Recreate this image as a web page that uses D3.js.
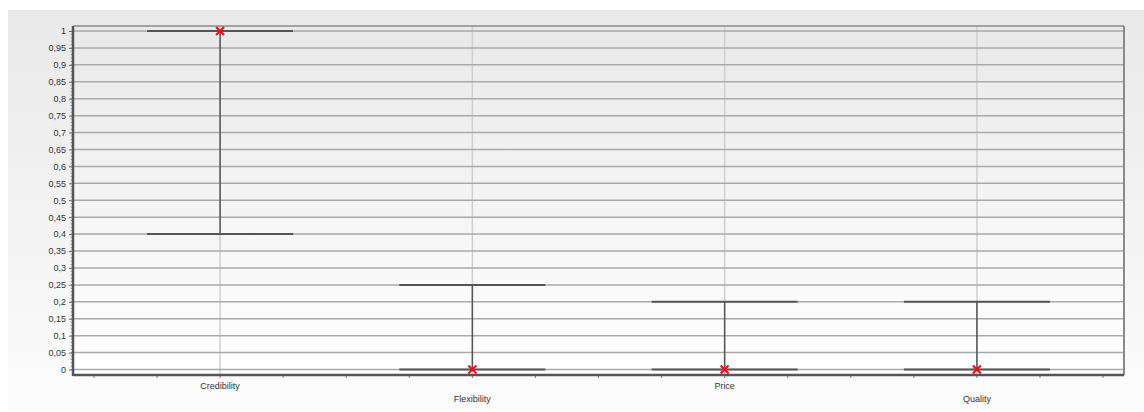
<!DOCTYPE html>
<html><head><meta charset="utf-8">
<script src="https://cdn.jsdelivr.net/npm/d3@7"></script>
<style>body{margin:0;background:#fff}svg{display:block}text{font-family:"Liberation Sans",Arial,sans-serif}</style>
</head><body><svg id="c" width="1144" height="412"></svg>
<script>
const categories = ["Credibility","Flexibility","Price","Quality"];
const lowValues = [0.4, 0, 0, 0];
const highValues = [1, 0.25, 0.2, 0.2];
const pointValues = [1, 0, 0, 0];
const yTicks = d3.range(0, 1.0001, 0.05).map(v => +v.toFixed(2));

const svg = d3.select("#c");
const defs = svg.append("defs");
const g1 = defs.append("linearGradient").attr("id","bg").attr("x1",0).attr("y1",0).attr("x2",0).attr("y2",1);
g1.append("stop").attr("offset","0%").attr("stop-color","#e9e9e9");
g1.append("stop").attr("offset","100%").attr("stop-color","#fcfcfc");
const g2 = defs.append("linearGradient").attr("id","pbg").attr("x1",0).attr("y1",0).attr("x2",0).attr("y2",1);
g2.append("stop").attr("offset","0%").attr("stop-color","#e9e9e9");
g2.append("stop").attr("offset","100%").attr("stop-color","#ffffff");

svg.append("rect").attr("x",8).attr("y",10).attr("width",1136).attr("height",400).attr("fill","url(#bg)");

const L = 73, R = 1124, T = 26, B = 375;
const x = d3.scalePoint().domain(categories).range([L, R]).padding(0.583);
const y = d3.scaleLinear().domain([0, 1]).range([369.5, 31]);

svg.append("rect").attr("x",L).attr("y",T).attr("width",R-L).attr("height",B-T).attr("fill","url(#pbg)");

// vertical grid
svg.append("g").selectAll("line").data(categories).join("line")
  .attr("x1", d => x(d)).attr("x2", d => x(d)).attr("y1", T).attr("y2", B)
  .attr("stroke","#cfcfcf").attr("stroke-width",1.5);
// horizontal grid
svg.append("g").selectAll("line").data(yTicks).join("line")
  .attr("x1", L).attr("x2", R).attr("y1", d => y(d)).attr("y2", d => y(d))
  .attr("stroke","#a9a9a9").attr("stroke-width",1.5);

// borders
svg.append("line").attr("x1",L).attr("x2",R).attr("y1",T).attr("y2",T).attr("stroke","#8a8a8a").attr("stroke-width",1.5);
svg.append("line").attr("x1",R).attr("x2",R).attr("y1",T).attr("y2",B).attr("stroke","#8a8a8a").attr("stroke-width",2);

// Y axis
const yAxis = d3.axisLeft(y).tickValues(yTicks).tickSize(4).tickPadding(3)
  .tickFormat(d => String(d).replace(".", ","));
const ya = svg.append("g").attr("transform",`translate(${L},0)`).call(yAxis);
ya.select(".domain").remove();
ya.selectAll("line").attr("stroke","#666");
ya.selectAll("text").attr("font-size",9).attr("fill","#333");
// minor y ticks
svg.append("g").selectAll("line").data(d3.range(0, 101)).join("line")
  .attr("x1", L-2.5).attr("x2", L).attr("y1", d => y(d/100)).attr("y2", d => y(d/100))
  .attr("stroke","#888").attr("stroke-width",0.8);

// X axis
const step = x.step();
const minorX = d3.range(-3, 15).map(k => x(categories[0]) + k * step / 4).filter(v => v > L + 5 && v < R - 5);
svg.append("g").selectAll("line").data(minorX).join("line")
  .attr("x1", d => d).attr("x2", d => d).attr("y1", B).attr("y2", B+3)
  .attr("stroke","#777").attr("stroke-width",1);
svg.append("line").attr("x1",L).attr("x2",R).attr("y1",B).attr("y2",B).attr("stroke","#555").attr("stroke-width",2.5);
svg.append("line").attr("x1",L).attr("x2",L).attr("y1",T).attr("y2",B+1).attr("stroke","#555").attr("stroke-width",2.5);

svg.append("g").selectAll("text").data(categories).join("text")
  .attr("x", d => x(d)).attr("y", (d, i) => i % 2 === 0 ? 389 : 402)
  .attr("text-anchor","middle").attr("font-size",9).attr("fill","#333").text(d => d);

// whiskers
const hw = 73;
const wg = svg.append("g");
categories.forEach((c, i) => {
  const cx = x(c);
  wg.append("line").attr("x1",cx).attr("x2",cx).attr("y1",y(lowValues[i])).attr("y2",y(highValues[i])).attr("stroke","#555").attr("stroke-width",1.5);
  [lowValues[i], highValues[i]].forEach(v => {
    wg.append("line").attr("x1",cx-hw).attr("x2",cx+hw).attr("y1",y(v)).attr("y2",y(v)).attr("stroke","#555").attr("stroke-width",2);
  });
});
// markers
const mg = svg.append("g");
categories.forEach((c, i) => {
  const cx = x(c), cy = y(pointValues[i]), s = 4;
  mg.append("path").attr("d",`M${cx-s},${cy-s}L${cx+s},${cy+s}M${cx-s},${cy+s}L${cx+s},${cy-s}`)
    .attr("stroke","#e8141a").attr("stroke-width",2.2).attr("fill","none");
});
</script></body></html>
